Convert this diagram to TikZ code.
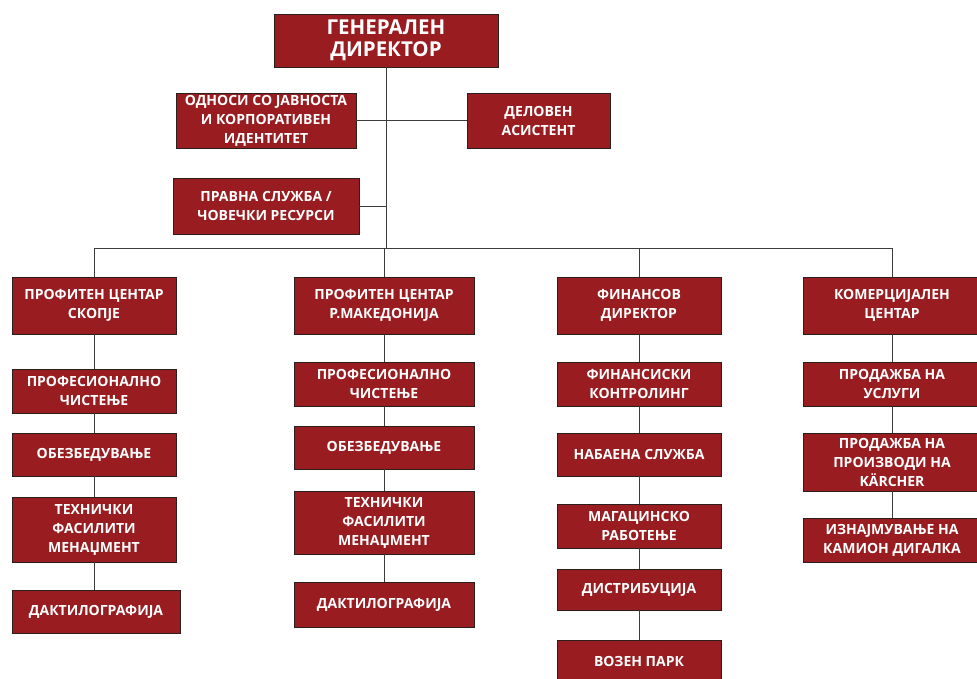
\documentclass[tikz,border=0pt]{standalone}
\usepackage{fontspec}
\setmainfont{Open Sans}
\usetikzlibrary{shadows}
\definecolor{boxred}{RGB}{152,28,32}
\definecolor{edgec}{RGB}{45,30,30}
\definecolor{linec}{RGB}{60,60,60}
\begin{document}
\begin{tikzpicture}[x=1pt,y=-1pt,
  box/.style={draw=edgec,line width=0.9pt,fill=boxred,text=white,
    font=\fontsize{14}{19}\selectfont\bfseries,align=center,inner sep=0pt,
    drop shadow={shadow xshift=1.2pt,shadow yshift=-1.2pt,fill=black,opacity=0.25}},
  bigbox/.style={box,font=\fontsize{20.5}{22.5}\selectfont\bfseries},
  plain/.style={text=white,font=\fontsize{14}{19}\selectfont\bfseries,inner sep=0pt},
  conn/.style={draw=linec,line width=1pt}]
\useasboundingbox (0,0) rectangle (977,678);
\clip (0,0) rectangle (977,678);
\fill[white] (0,0) rectangle (977,678);
\newcommand{\bx}[7][box]{%
  \node[#1,minimum width={#5-#3},minimum height={#6-#4}] (#2) at ({(#3+#5)/2},{(#4+#6)/2}) {#7};}
% top
\bx[bigbox]{gd}{274}{14}{498}{67}{ГЕНЕРАЛЕН\\ДИРЕКТОР}
\bx{odn}{176}{93}{356}{148}{ОДНОСИ СО ЈАВНОСТА\\И КОРПОРАТИВЕН\\ИДЕНТИТЕТ}
\bx{del}{467}{93}{610}{148}{ДЕЛОВЕН\\АСИСТЕНТ}
\bx{prv}{173}{178}{359}{234}{ПРАВНА СЛУЖБА /\\ЧОВЕЧКИ РЕСУРСИ}
% column 1
\bx{ca}{12}{277}{176}{334}{ПРОФИТЕН ЦЕНТАР\\СКОПЈЕ}
\bx{cb}{12}{369}{176}{413}{ПРОФЕСИОНАЛНО\\ЧИСТЕЊЕ}
\bx{cc}{12}{433}{176}{476}{ОБЕЗБЕДУВАЊЕ}
\bx{cd}{12}{497}{176}{562}{ТЕХНИЧКИ\\ФАСИЛИТИ\\МЕНАЏМЕНТ}
\bx{ce}{12}{590}{180}{633}{ДАКТИЛОГРАФИЈА}
% column 2
\bx{da}{294}{277}{474}{334}{ПРОФИТЕН ЦЕНТАР\\Р.МАКЕДОНИЈА}
\bx{db}{294}{362}{474}{406}{ПРОФЕСИОНАЛНО\\ЧИСТЕЊЕ}
\bx{dc}{294}{426}{474}{469}{ОБЕЗБЕДУВАЊЕ}
\bx{dd}{294}{491}{474}{554}{ТЕХНИЧКИ\\ФАСИЛИТИ\\МЕНАЏМЕНТ}
\bx{de}{294}{582}{474}{627}{ДАКТИЛОГРАФИЈА}
% column 3
\bx{ea}{557}{277}{721}{334}{ФИНАНСОВ\\ДИРЕКТОР}
\bx{eb}{557}{362}{721}{406}{ФИНАНСИСКИ\\КОНТРОЛИНГ}
\bx{ec}{557}{433}{721}{476}{НАБАЕНА СЛУЖБА}
\bx{ed}{557}{504}{721}{548}{МАГАЦИНСКО\\РАБОТЕЊЕ}
\bx{ee}{557}{569}{721}{610}{ДИСТРИБУЦИЈА}
\bx{ef}{557}{640}{721}{684}{}
\node[plain] (efl) at (639,661) {ВОЗЕН ПАРК};
% column 4
\bx{fa}{803}{277}{981}{334}{КОМЕРЦИЈАЛЕН\\ЦЕНТАР}
\bx{fb}{803}{362}{981}{406}{ПРОДАЖБА НА\\УСЛУГИ}
\bx{fc}{803}{433}{981}{491}{ПРОДАЖБА НА\\ПРОИЗВОДИ НА\\KÄRCHER}
\bx{fd}{803}{518}{981}{562}{ИЗНАЈМУВАЊЕ НА\\КАМИОН ДИГАЛКА}
% connectors
\coordinate (busY) at (0,248);
\draw[conn] (gd.south) -- (gd.south |- busY);
\draw[conn] (odn.east) -- (del.west);
\draw[conn] (prv.east) -- (prv.east -| gd.south);
\draw[conn] (ca.north) -- (ca.north |- busY) -- (fa.north |- busY) -- (fa.north);
\draw[conn] (da.north) -- (da.north |- busY);
\draw[conn] (ea.north) -- (ea.north |- busY);
\draw[conn] (ca) -- (cb); \draw[conn] (cb) -- (cc); \draw[conn] (cc) -- (cd);
\draw[conn] (cd.south) -- (cd.south |- ce.north);
\draw[conn] (da) -- (db); \draw[conn] (db) -- (dc); \draw[conn] (dc) -- (dd); \draw[conn] (dd) -- (de);
\draw[conn] (ea) -- (eb); \draw[conn] (eb) -- (ec); \draw[conn] (ec) -- (ed); \draw[conn] (ed) -- (ee); \draw[conn] (ee) -- (ef);
\draw[conn] (fa) -- (fb); \draw[conn] (fb) -- (fc); \draw[conn] (fc) -- (fd);
\end{tikzpicture}
\end{document}
